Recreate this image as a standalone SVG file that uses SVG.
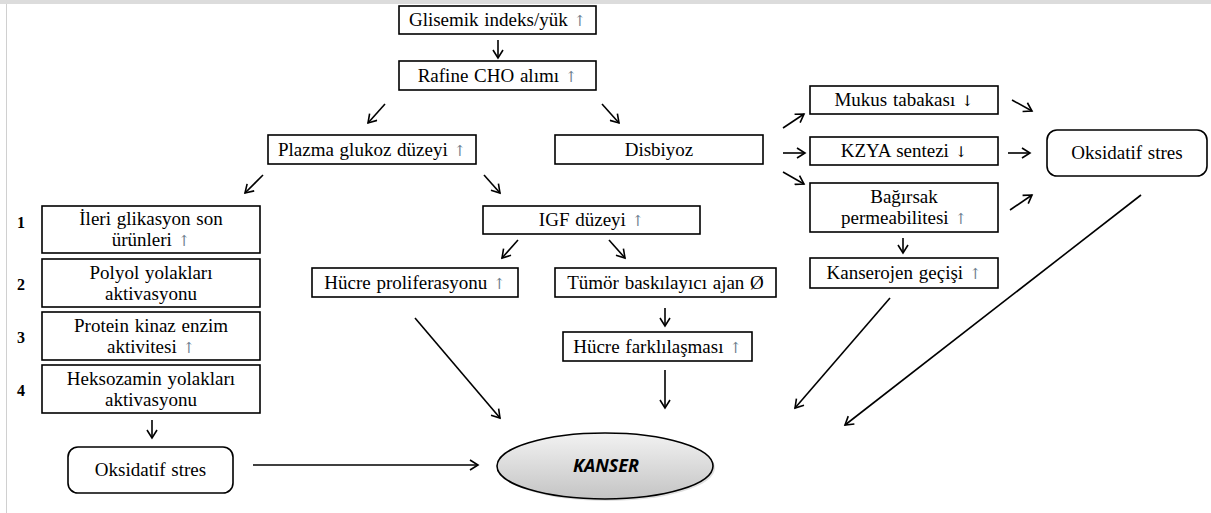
<svg xmlns="http://www.w3.org/2000/svg" width="1211" height="513" viewBox="0 0 1211 513">
<defs>
<marker id="ah" markerWidth="12" markerHeight="12" refX="10" refY="6" orient="auto" markerUnits="userSpaceOnUse">
<path d="M2,1 L10,6 L2,11" fill="none" stroke="#000" stroke-width="1.6"/>
</marker>
<linearGradient id="eg" x1="0" y1="0" x2="0" y2="1">
<stop offset="0" stop-color="#f2f2f2"/>
<stop offset="1" stop-color="#c4c4c4"/>
</linearGradient>
</defs>
<style>
.b{fill:#fff;stroke:#000;stroke-width:1.6}
.t{font-family:'Liberation Serif','Times New Roman',Times,serif;font-size:19px;fill:#000;text-anchor:middle;word-spacing:1px}
.n{font-family:'Liberation Serif','Times New Roman',Times,serif;font-size:16px;font-weight:bold;fill:#000}
.u{fill:#6f7f8f;font-family:'DejaVu Serif','Liberation Serif',serif;font-size:15px}
.d{fill:#000;font-family:'DejaVu Serif','Liberation Serif',serif;font-size:15px}
.c line{stroke:#000;stroke-width:1.6;marker-end:url(#ah)}
</style>
<rect x="0" y="0" width="1211" height="513" fill="#fff"/>
<rect x="0" y="0" width="1211" height="4" fill="#dcdcdc"/>
<line x1="6.5" y1="4" x2="6.5" y2="513" stroke="#d0d0d0" stroke-width="1"/>

<g id="glisemik"><rect class="b" x="399" y="6" width="197" height="28"/><text class="t" x="497.5" y="26">Glisemik  indeks/yük <tspan class="u">↑</tspan></text></g>
<g id="rafine"><rect class="b" x="399" y="61" width="197" height="29"/><text class="t" x="497.5" y="82">Rafine CHO alımı <tspan class="u">↑</tspan></text></g>
<g id="plazma"><rect class="b" x="268" y="135" width="208" height="29"/><text class="t" x="372" y="156">Plazma  glukoz  düzeyi <tspan class="u">↑</tspan></text></g>
<g id="disbiyoz"><rect class="b" x="555" y="135" width="208" height="29"/><text class="t" x="659" y="156">Disbiyoz</text></g>
<g id="mukus"><rect class="b" x="810" y="86" width="188" height="28"/><text class="t" x="904" y="106">Mukus tabakası <tspan class="d">↓</tspan></text></g>
<g id="kzya"><rect class="b" x="810" y="137" width="188" height="28"/><text class="t" x="904" y="157">KZYA sentezi <tspan class="d">↓</tspan></text></g>
<g id="bagirsak"><rect class="b" x="810" y="183" width="188" height="49"/><text class="t" x="904" y="203">Bağırsak</text><text class="t" x="904" y="224">permeabilitesi  <tspan class="u">↑</tspan></text></g>
<g id="kanserojen"><rect class="b" x="810" y="258" width="188" height="30"/><text class="t" x="904" y="279">Kanserojen  geçişi <tspan class="u">↑</tspan></text></g>
<g id="oksidatif-sag"><rect class="b" x="1047" y="130" width="160" height="46" rx="10"/><text class="t" x="1127" y="159">Oksidatif stres</text></g>
<g id="igf"><rect class="b" x="483" y="206" width="217" height="28"/><text class="t" x="591.5" y="226">IGF düzeyi <tspan class="u">↑</tspan></text></g>
<g id="hucre-prolif"><rect class="b" x="312" y="268" width="206" height="29"/><text class="t" x="415" y="289">Hücre proliferasyonu <tspan class="u">↑</tspan></text></g>
<g id="tumor"><rect class="b" x="555" y="268" width="221" height="29"/><text class="t" x="665.5" y="289">Tümör baskılayıcı ajan Ø</text></g>
<g id="hucre-fark"><rect class="b" x="563" y="332" width="189" height="29"/><text class="t" x="657.5" y="353">Hücre farklılaşması <tspan class="u">↑</tspan></text></g>
<g id="ileri"><rect class="b" x="42" y="206" width="218" height="47"/><text class="n" x="17" y="228">1</text><text class="t" x="151" y="225">İleri  glikasyon  son</text><text class="t" x="151" y="246">ürünleri  <tspan class="u">↑</tspan></text></g>
<g id="polyol"><rect class="b" x="42" y="259" width="218" height="48"/><text class="n" x="17" y="290">2</text><text class="t" x="151" y="279">Polyol yolakları</text><text class="t" x="151" y="300">aktivasyonu</text></g>
<g id="protein"><rect class="b" x="42" y="312" width="218" height="48"/><text class="n" x="17" y="343">3</text><text class="t" x="151" y="332">Protein kinaz  enzim</text><text class="t" x="151" y="353">aktivitesi  <tspan class="u">↑</tspan></text></g>
<g id="heksozamin"><rect class="b" x="42" y="365" width="218" height="48"/><text class="n" x="17" y="396">4</text><text class="t" x="151" y="385">Heksozamin  yolakları</text><text class="t" x="151" y="406">aktivasyonu</text></g>
<g id="oksidatif-sol"><rect class="b" x="68" y="447" width="165" height="46" rx="10"/><text class="t" x="150.5" y="476">Oksidatif stres</text></g>
<g id="kanser"><ellipse cx="607" cy="468" rx="108" ry="33" fill="#000" opacity="0.12"/><ellipse cx="605" cy="466" rx="108" ry="33" fill="url(#eg)" stroke="#000" stroke-width="1.6"/><text x="606" y="472" font-family="'Open Sans','Liberation Sans',Arial,sans-serif" font-size="18" font-weight="bold" font-style="italic" text-anchor="middle">KANSER</text></g>

<g class="c" id="connectors">
<line x1="498" y1="40" x2="498" y2="58"/>
<line x1="385" y1="104" x2="368" y2="123"/>
<line x1="602" y1="104" x2="619" y2="123"/>
<line x1="263" y1="175" x2="245" y2="193"/>
<line x1="484" y1="175" x2="500" y2="193"/>
<line x1="783" y1="128" x2="804" y2="114"/>
<line x1="783" y1="153" x2="805" y2="153"/>
<line x1="783" y1="172" x2="804" y2="184"/>
<line x1="1012" y1="100" x2="1032" y2="111"/>
<line x1="1008" y1="153" x2="1030" y2="153"/>
<line x1="1010" y1="210" x2="1032" y2="195"/>
<line x1="903" y1="238" x2="903" y2="253"/>
<line x1="518" y1="240" x2="502" y2="258"/>
<line x1="609" y1="240" x2="625" y2="258"/>
<line x1="665" y1="308" x2="665" y2="326"/>
<line x1="665" y1="370" x2="665" y2="408"/>
<line x1="415" y1="318" x2="500" y2="418"/>
<line x1="890" y1="298" x2="795" y2="408"/>
<line x1="1141" y1="195" x2="845" y2="425"/>
<line x1="152" y1="420" x2="152" y2="438"/>
<line x1="253" y1="465" x2="478" y2="465"/>
</g>
</svg>
